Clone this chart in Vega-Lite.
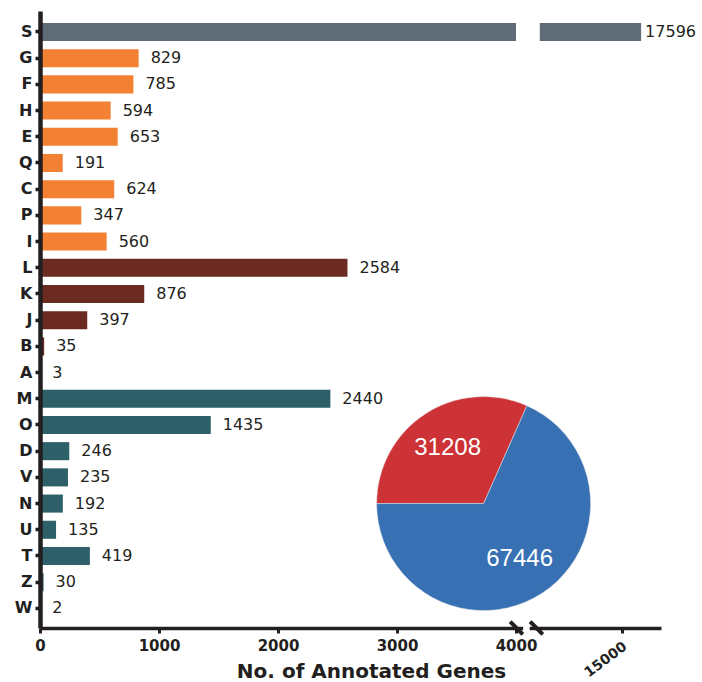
{
  "$schema": "https://vega.github.io/schema/vega-lite/v6.json",
  "width": 621,
  "height": 617,
  "autosize": {"type": "none"},
  "padding": {"left": 40, "top": 11, "right": 41, "bottom": 54},
  "background": "white",
  "config": {"view": {"stroke": null}, "font": "DejaVu Sans"},
  "datasets": {
    "cog": [
      {"cat": "S", "value": 17596, "grp": "unknown"},
      {"cat": "G", "value": 829, "grp": "metabolism"},
      {"cat": "F", "value": 785, "grp": "metabolism"},
      {"cat": "H", "value": 594, "grp": "metabolism"},
      {"cat": "E", "value": 653, "grp": "metabolism"},
      {"cat": "Q", "value": 191, "grp": "metabolism"},
      {"cat": "C", "value": 624, "grp": "metabolism"},
      {"cat": "P", "value": 347, "grp": "metabolism"},
      {"cat": "I", "value": 560, "grp": "metabolism"},
      {"cat": "L", "value": 2584, "grp": "info"},
      {"cat": "K", "value": 876, "grp": "info"},
      {"cat": "J", "value": 397, "grp": "info"},
      {"cat": "B", "value": 35, "grp": "info"},
      {"cat": "A", "value": 3, "grp": "info"},
      {"cat": "M", "value": 2440, "grp": "cellular"},
      {"cat": "O", "value": 1435, "grp": "cellular"},
      {"cat": "D", "value": 246, "grp": "cellular"},
      {"cat": "V", "value": 235, "grp": "cellular"},
      {"cat": "N", "value": 192, "grp": "cellular"},
      {"cat": "U", "value": 135, "grp": "cellular"},
      {"cat": "T", "value": 419, "grp": "cellular"},
      {"cat": "Z", "value": 30, "grp": "cellular"},
      {"cat": "W", "value": 2, "grp": "cellular"}
    ],
    "pie": [
      {"k": 1, "v": 31208, "grp": "pieRed"},
      {"k": 2, "v": 67446, "grp": "pieBlue"}
    ]
  },
  "layer": [
    {
      "layer": [
        {
          "data": {"name": "cog"},
          "mark": {"type": "bar"},
          "encoding": {
            "y": {
              "field": "cat", "type": "nominal",
              "scale": {"domain": ["S","G","F","H","E","Q","C","P","I","L","K","J","B","A","M","O","D","V","N","U","T","Z","W"], "paddingInner": 0.31, "paddingOuter": 0.43, "align": 0.53},
              "axis": {
                "title": null, "zindex": 1,
                "labelFont": "DejaVu Sans", "labelFontWeight": "bold", "labelFontSize": 16, "labelColor": "#231f20", "labelPadding": 3,
                "tickSize": 5, "tickWidth": 3.5, "tickColor": "#231f20",
                "domainWidth": 4.5, "domainColor": "#231f20", "grid": false
              }
            },
            "x": {
              "field": "value", "type": "quantitative",
              "scale": {"type": "linear", "domain": [0, 4000, 4300, 15000, 20330], "range": [0, 476, 511.7, 582.2, 621], "nice": false, "zero": false},
              "axis": {
                "title": "No. of Annotated Genes", "zindex": 0,
                "values": [0, 1000, 2000, 3000, 4000, 15000],
                "format": "d",
                "labelFont": "DejaVu Sans", "labelFontWeight": "bold", "labelFontSize": 15, "labelColor": "#231f20", "labelPadding": 5,
                "labelFlush": false, "labelOverlap": false, "labelBound": false,
                "tickSize": 5, "tickWidth": 3, "tickColor": "#231f20",
                "domainWidth": 3.5, "domainColor": "#231f20", "grid": false,
                "titleFont": "DejaVu Sans", "titleFontWeight": "bold", "titleFontSize": 20, "titleColor": "#231f20",
                "titleX": 331, "titleY": 49, "titleBaseline": "alphabetic",
                "encoding": {
                  "labels": {
                    "angle": {"value": {"expr": "datum.value == 15000 ? -37 : 0"}},
                    "align": {"value": {"expr": "datum.value == 15000 ? 'right' : 'center'"}},
                    "fontSize": {"value": {"expr": "datum.value == 15000 ? 14 : 15"}},
                    "dx": {"value": {"expr": "datum.value == 15000 ? -2 : 0"}}
                  }
                }
              }
            },
            "color": {
              "field": "grp", "type": "nominal", "legend": null,
              "scale": {"domain": ["unknown","metabolism","info","cellular","pieRed","pieBlue"], "range": ["#5f6c77","#f28133","#6c2b21","#2d6068","#cc3236","#3871b3"]}
            }
          }
        },
        {
          "data": {"values": [{}]},
          "mark": {"type": "bar", "color": "white"},
          "encoding": {
            "y": {"datum": "S", "type": "nominal", "scale": {"domain": ["S","G","F","H","E","Q","C","P","I","L","K","J","B","A","M","O","D","V","N","U","T","Z","W"], "paddingInner": 0.31, "paddingOuter": 0.43, "align": 0.53}},
            "x": {"datum": 4000, "type": "quantitative", "scale": {"type": "linear", "domain": [0, 4000, 4300, 15000, 20330], "range": [0, 476, 511.7, 582.2, 621], "nice": false, "zero": false}},
            "x2": {"datum": 4200}
          }
        },
        {
          "data": {"name": "cog"},
          "transform": [{"filter": "datum.cat != 'S'"}],
          "mark": {"type": "text", "align": "left", "baseline": "middle", "dx": 12, "fontSize": 16, "font": "DejaVu Sans", "color": "#231f20"},
          "encoding": {
            "y": {"field": "cat", "type": "nominal", "scale": {"domain": ["S","G","F","H","E","Q","C","P","I","L","K","J","B","A","M","O","D","V","N","U","T","Z","W"], "paddingInner": 0.31, "paddingOuter": 0.43, "align": 0.53}},
            "x": {"field": "value", "type": "quantitative", "scale": {"type": "linear", "domain": [0, 4000, 4300, 15000, 20330], "range": [0, 476, 511.7, 582.2, 621], "nice": false, "zero": false}},
            "text": {"field": "value", "type": "quantitative", "format": "d"}
          }
        },
        {
          "data": {"name": "cog"},
          "transform": [{"filter": "datum.cat == 'S'"}],
          "mark": {"type": "text", "align": "left", "baseline": "middle", "dx": 4, "fontSize": 16, "font": "DejaVu Sans", "color": "#231f20"},
          "encoding": {
            "y": {"field": "cat", "type": "nominal", "scale": {"domain": ["S","G","F","H","E","Q","C","P","I","L","K","J","B","A","M","O","D","V","N","U","T","Z","W"], "paddingInner": 0.31, "paddingOuter": 0.43, "align": 0.53}},
            "x": {"field": "value", "type": "quantitative", "scale": {"type": "linear", "domain": [0, 4000, 4300, 15000, 20330], "range": [0, 476, 511.7, 582.2, 621], "nice": false, "zero": false}},
            "text": {"field": "value", "type": "quantitative", "format": "d"}
          }
        },
        {
          "data": {"name": "pie"},
          "mark": {"type": "arc", "outerRadius": 107, "stroke": "#e8e8e8", "strokeWidth": 0.5},
          "encoding": {
            "theta": {"field": "v", "type": "quantitative", "stack": true, "scale": {"range": [4.712, 10.9956]}},
            "order": {"field": "k", "type": "quantitative"},
            "color": {
              "field": "grp", "type": "nominal", "legend": null,
              "scale": {"domain": ["unknown","metabolism","info","cellular","pieRed","pieBlue"], "range": ["#5f6c77","#f28133","#6c2b21","#2d6068","#cc3236","#3871b3"]}
            },
            "x": {"datum": 3728, "type": "quantitative", "scale": {"type": "linear", "domain": [0, 4000, 4300, 15000, 20330], "range": [0, 476, 511.7, 582.2, 621], "nice": false, "zero": false}},
            "y": {"datum": "N", "type": "nominal", "scale": {"domain": ["S","G","F","H","E","Q","C","P","I","L","K","J","B","A","M","O","D","V","N","U","T","Z","W"], "paddingInner": 0.31, "paddingOuter": 0.43, "align": 0.53}}
          }
        },
        {
          "data": {"name": "pie"},
          "mark": {"type": "text", "radius": 66, "fontSize": 24, "font": "Liberation Sans", "color": "white", "align": "center", "baseline": "middle"},
          "encoding": {
            "theta": {"field": "v", "type": "quantitative", "stack": true, "scale": {"range": [4.712, 10.9956]}},
            "order": {"field": "k", "type": "quantitative"},
            "text": {"field": "v", "type": "quantitative", "format": "d"},
            "x": {"datum": 3728, "type": "quantitative", "scale": {"type": "linear", "domain": [0, 4000, 4300, 15000, 20330], "range": [0, 476, 511.7, 582.2, 621], "nice": false, "zero": false}},
            "y": {"datum": "N", "type": "nominal", "scale": {"domain": ["S","G","F","H","E","Q","C","P","I","L","K","J","B","A","M","O","D","V","N","U","T","Z","W"], "paddingInner": 0.31, "paddingOuter": 0.43, "align": 0.53}}
          }
        }
      ]
    },
    {
      "data": {"values": [{}]},
      "layer": [
        {
          "mark": {"type": "rule", "color": "white", "strokeWidth": 7},
          "encoding": {
            "x": {"datum": 4060, "type": "quantitative", "scale": {"type": "linear", "domain": [0, 4000, 4300, 15000, 20330], "range": [0, 476, 511.7, 582.2, 621], "nice": false, "zero": false}},
            "x2": {"datum": 4115},
            "y": {"datum": 0, "type": "quantitative", "scale": {"domain": [0, 1], "nice": false, "zero": false}, "axis": null},
            "y2": {"datum": 0}
          }
        },
        {
          "mark": {"type": "rule", "color": "#231f20", "strokeWidth": 4},
          "encoding": {
            "x": {"datum": 3951, "type": "quantitative", "scale": {"type": "linear", "domain": [0, 4000, 4300, 15000, 20330], "range": [0, 476, 511.7, 582.2, 621], "nice": false, "zero": false}},
            "x2": {"datum": 4057},
            "y": {"datum": 0.0105, "type": "quantitative", "scale": {"domain": [0, 1], "nice": false, "zero": false}, "axis": null},
            "y2": {"datum": -0.0105}
          }
        },
        {
          "mark": {"type": "rule", "color": "#231f20", "strokeWidth": 4},
          "encoding": {
            "x": {"datum": 4119, "type": "quantitative", "scale": {"type": "linear", "domain": [0, 4000, 4300, 15000, 20330], "range": [0, 476, 511.7, 582.2, 621], "nice": false, "zero": false}},
            "x2": {"datum": 4225},
            "y": {"datum": 0.0105, "type": "quantitative", "scale": {"domain": [0, 1], "nice": false, "zero": false}, "axis": null},
            "y2": {"datum": -0.0105}
          }
        }
      ]
    }
  ],
  "resolve": {"scale": {"y": "independent"}}
}
